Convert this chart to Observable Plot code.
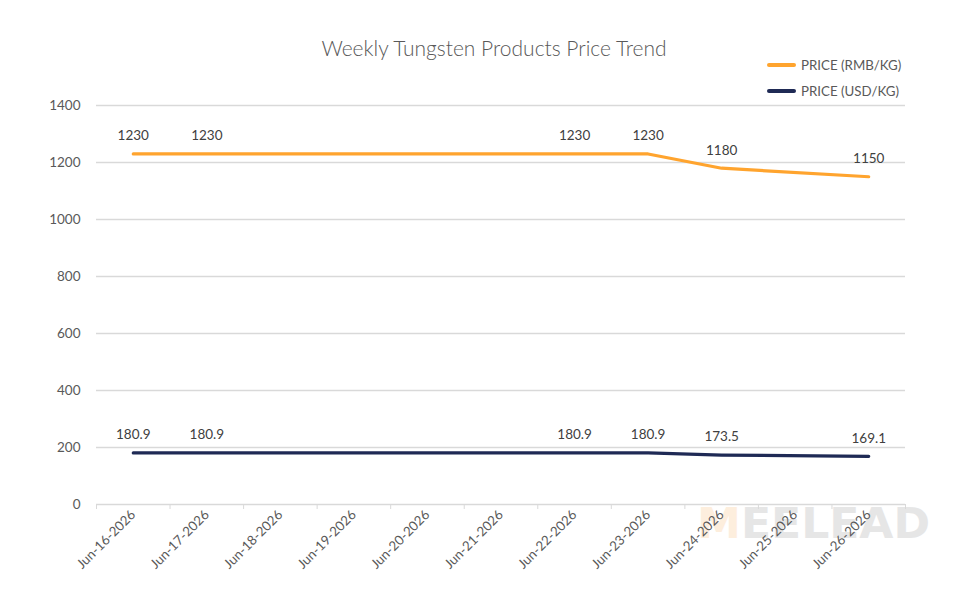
<!DOCTYPE html>
<html><head><meta charset="utf-8">
<script src="https://cdn.jsdelivr.net/npm/d3@7"></script>
<script src="https://cdn.jsdelivr.net/npm/@observablehq/plot@0.6"></script>
<style>
body{margin:0;background:#fff;font-family:Lato,"Open Sans",sans-serif;}
#wrap{position:relative;width:980px;height:600px;overflow:hidden;}
#title{position:absolute;top:35px;left:0;width:988px;text-align:center;font-size:21px;font-weight:300;color:#595959;}
#legend{position:absolute;left:767px;top:52px;font-size:13.3px;color:#595959;}
.li{display:flex;align-items:center;height:26px;}
.sw{width:29px;height:4px;border-radius:2px;margin-right:5px;}
#wm{position:absolute;left:697px;top:499px;font-family:"DejaVu Sans",sans-serif;font-weight:bold;font-size:42px;color:#e6e6e6;letter-spacing:0px;transform-origin:left top;transform:scaleX(1.05);}
#wm span{color:#fdeedd;}
#chart{position:absolute;left:0;top:0;}
</style></head>
<body><div id="wrap">
<div id="wm"><span>M</span>EELEAD</div>
<div id="chart"></div>
<div id="title">Weekly Tungsten Products Price Trend</div>
<div id="legend"></div>
</div>
<script>
const dates = ["Jun-16-2026","Jun-17-2026","Jun-18-2026","Jun-19-2026","Jun-20-2026","Jun-21-2026","Jun-22-2026","Jun-23-2026","Jun-24-2026","Jun-25-2026","Jun-26-2026"];
const priceDates = ["Jun-16-2026","Jun-17-2026","Jun-22-2026","Jun-23-2026","Jun-24-2026","Jun-26-2026"];
const rmbValues = [1230,1230,1230,1230,1180,1150];
const usdValues = [180.9,180.9,180.9,180.9,173.5,169.1];
const yTicks = [0,200,400,600,800,1000,1200,1400];
const seriesNames = ["PRICE (RMB/KG)","PRICE (USD/KG)"];
const seriesColors = ["#FFA42E","#1F2A55"];

const rmb = priceDates.map((d,k)=>({i:dates.indexOf(d), v:rmbValues[k]}));
const usd = priceDates.map((d,k)=>({i:dates.indexOf(d), v:usdValues[k]}));

const legend = document.getElementById("legend");
seriesNames.forEach((n,k)=>{
  const row = document.createElement("div"); row.className="li";
  row.innerHTML = `<div class="sw" style="background:${seriesColors[k]}"></div><div>${n}</div>`;
  legend.appendChild(row);
});

const plot = Plot.plot({
  width:980, height:600,
  marginLeft:96, marginRight:75, marginTop:105, marginBottom:96,
  style:{fontFamily:"Lato, sans-serif", fontSize:"13px", color:"#595959", background:"transparent"},
  x:{type:"linear", domain:[-0.5, dates.length-0.5]},
  y:{domain:[0,1400]},
  marks:[
    Plot.gridY(yTicks,{stroke:"#d9d9d9", strokeOpacity:1, strokeWidth:1.3}),
    Plot.axisY(yTicks,{tickSize:0, tickPadding:16, label:null, tickFormat:d=>String(d), fill:"#595959", fontSize:13.5}),
    Plot.axisX(d3.range(-0.5, dates.length), {tickSize:5, stroke:"#d9d9d9", strokeOpacity:1, tickFormat:()=>"", label:null}),
    Plot.axisX(d3.range(dates.length), {tickSize:0, tickPadding:8, tickFormat:i=>dates[i], tickRotate:-45, label:null, fill:"#595959", fontSize:13.3}),
    Plot.line(rmb,{x:"i", y:"v", stroke:seriesColors[0], strokeWidth:3.2, strokeLinejoin:"round"}),
    Plot.line(usd,{x:"i", y:"v", stroke:seriesColors[1], strokeWidth:3.2, strokeLinejoin:"round"}),
    Plot.text(rmb,{x:"i", y:"v", text:d=>String(d.v), dy:-18, fill:"#404040", fontSize:13.5}),
    Plot.text(usd,{x:"i", y:"v", text:d=>d.v.toFixed(1), dy:-18, fill:"#404040", fontSize:13.5})
  ]
});
document.getElementById("chart").appendChild(plot);
</script>
</body></html>
